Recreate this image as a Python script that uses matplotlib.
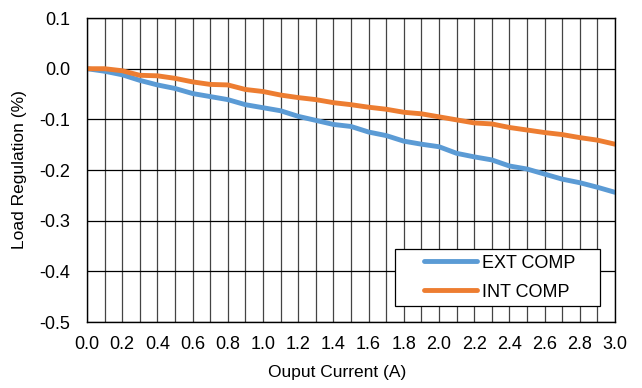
import numpy as np
import matplotlib.pyplot as plt
from matplotlib.legend_handler import HandlerLine2D

plt.rcParams['font.family'] = ['Liberation Sans', 'DejaVu Sans']
plt.rcParams['axes.unicode_minus'] = False

current = np.round(np.arange(0, 3.01, 0.1), 1)
ext_comp = [0.0, -0.005, -0.012, -0.023, -0.032, -0.039, -0.049, -0.055, -0.061, -0.071,
            -0.077, -0.083, -0.094, -0.102, -0.110, -0.114, -0.125, -0.132, -0.143, -0.149,
            -0.154, -0.167, -0.174, -0.180, -0.192, -0.198, -0.208, -0.218, -0.225, -0.234,
            -0.244]
int_comp = [0.0, 0.0, -0.004, -0.013, -0.014, -0.019, -0.026, -0.031, -0.032, -0.041,
            -0.045, -0.052, -0.057, -0.061, -0.067, -0.071, -0.076, -0.080, -0.086, -0.089,
            -0.095, -0.101, -0.107, -0.109, -0.116, -0.121, -0.126, -0.130, -0.136, -0.141,
            -0.149]


def fmt(v, pos):
    s = '%.1f' % v
    return '0.0' if s == '-0.0' else s


fig = plt.figure(figsize=(6.42, 3.88), dpi=100)
ax = fig.add_axes([0.1355, 0.170, 0.8225, 0.7835])

l1, = ax.plot(current, ext_comp, color='#5B9BD5', lw=3.5, solid_capstyle='round')
l2, = ax.plot(current, int_comp, color='#ED7D31', lw=3.5, solid_capstyle='round')

ax.set_xlim(0, 3.0)
ax.set_ylim(-0.5, 0.1)
ax.set_xticks(np.arange(0, 3.01, 0.2))
ax.set_xticks(np.arange(0, 3.01, 0.1), minor=True)
ax.set_yticks(np.arange(-0.5, 0.11, 0.1))
ax.xaxis.set_major_formatter(plt.FuncFormatter(fmt))
ax.yaxis.set_major_formatter(plt.FuncFormatter(fmt))
ax.tick_params(which='both', length=0, labelsize=13)
ax.tick_params(axis='x', pad=10)
ax.tick_params(axis='y', pad=12)
ax.grid(which='both', axis='x', color='#444444', lw=0.9)
ax.grid(which='major', axis='y', color='black', lw=0.9)
ax.set_axisbelow(True)
for s in ax.spines.values():
    s.set_linewidth(1.0)

ax.set_xlabel('Ouput Current (A)', fontsize=12.5)
ax.set_ylabel('Load Regulation (%)', fontsize=12.5)
ax.xaxis.set_label_coords(0.473, -0.165)
ax.xaxis.label.set_va('center')
ax.yaxis.set_label_coords(-0.127, 0.5)
ax.yaxis.label.set_va('center')

handler = HandlerLine2D(xpad=1.3)
leg = ax.legend([l1, l2], ['EXT COMP    ', 'INT COMP'], loc='lower right',
                bbox_to_anchor=(0.9716, 0.053), borderaxespad=0, fontsize=13,
                fancybox=False, framealpha=1, edgecolor='black', handlelength=4.2,
                handletextpad=0.28, borderpad=0.3, labelspacing=0.65,
                handler_map={l1: handler, l2: handler})
leg.get_frame().set_linewidth(0.9)

fig.savefig('out.png', dpi=100)
